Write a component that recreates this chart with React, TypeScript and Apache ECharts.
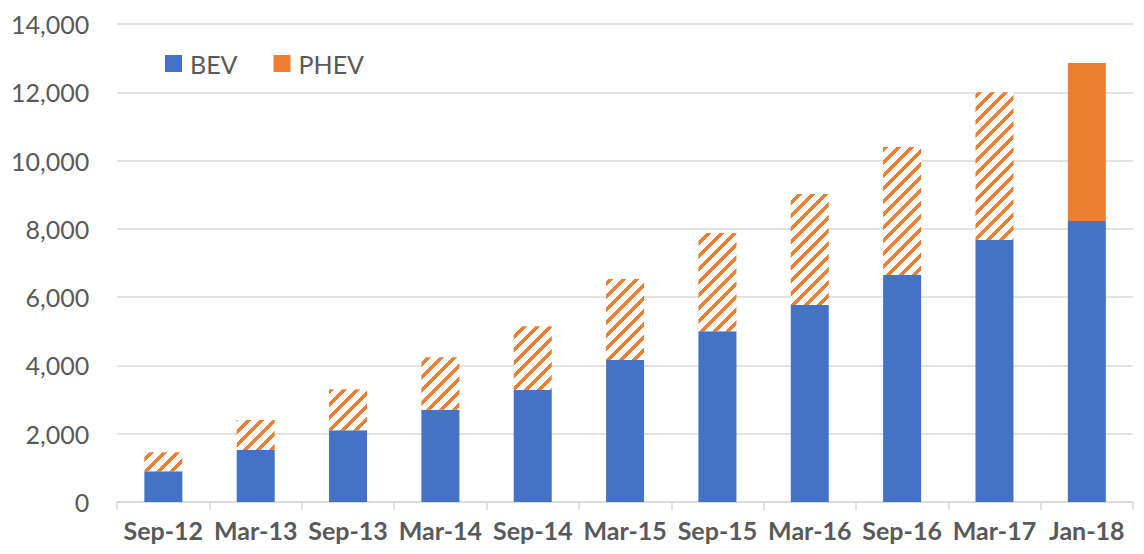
import React, { useEffect, useRef } from "react";
import * as echarts from "echarts";

const categories = ["Sep-12", "Mar-13", "Sep-13", "Mar-14", "Sep-14", "Mar-15", "Sep-15", "Mar-16", "Sep-16", "Mar-17", "Jan-18"];
const bevValues = [900, 1520, 2100, 2700, 3280, 4160, 5000, 5770, 6650, 7670, 8230];
const phevValues = [560, 880, 1200, 1540, 1870, 2370, 2880, 3250, 3750, 4330, 4630];
const hatchedCount = 10; // first ten PHEV bars are hatched (estimates), last one solid

const BLUE = "#4472C4";
const ORANGE = "#ED7D31";
const TEXT = "#595959";
const GRID = "#D9D9D9";
const FONT = "Lato, 'Open Sans', sans-serif";

function makeHatch(): HTMLCanvasElement {
  const n = 13;
  const c = document.createElement("canvas");
  c.width = n;
  c.height = n;
  const ctx = c.getContext("2d")!;
  ctx.fillStyle = "#ffffff";
  ctx.fillRect(0, 0, n, n);
  ctx.fillStyle = ORANGE;
  for (let y = 0; y < n; y++) {
    for (let x = 0; x < n; x++) {
      if ((x + y) % n < 5) ctx.fillRect(x, y, 1, 1);
    }
  }
  return c;
}

export default function App() {
  const ref = useRef<HTMLDivElement>(null);
  useEffect(() => {
    if (!ref.current) return;
    const chart = echarts.init(ref.current, undefined, { renderer: "svg" });
    const hatch = makeHatch();
    const phevData = phevValues.map((v, i) =>
      i < hatchedCount
        ? { value: v, itemStyle: { color: { image: hatch, repeat: "repeat" } as any } }
        : { value: v }
    );
    chart.setOption({
      animation: false,
      grid: { left: 108, right: 3, top: 16, bottom: 44, containLabel: false },
      legend: {
        left: 152,
        top: 38,
        icon: "rect",
        itemWidth: 17,
        itemHeight: 17,
        itemGap: 36,
        textStyle: { color: TEXT, fontSize: 25, fontFamily: FONT, padding: [0, 0, 0, 3] },
        data: ["BEV", "PHEV"],
      },
      xAxis: {
        type: "category",
        data: categories,
        axisLine: { show: true, lineStyle: { color: GRID, width: 1.5 } },
        axisTick: { show: true, length: 8, lineStyle: { color: GRID, width: 1.5 } },
        axisLabel: {
          color: TEXT,
          fontSize: 25,
          fontWeight: "bold",
          fontFamily: FONT,
          margin: 15,
          interval: 0,
        },
      },
      yAxis: {
        type: "value",
        min: 0,
        max: 14000,
        interval: 2000,
        axisLine: { show: false },
        axisTick: { show: false },
        splitLine: { lineStyle: { color: GRID, width: 1.5 } },
        axisLabel: {
          color: TEXT,
          fontSize: 25,
          fontFamily: FONT,
          margin: 28,
          formatter: (v: number) => v.toLocaleString("en-US"),
        },
      },
      series: [
        {
          name: "BEV",
          type: "bar",
          stack: "total",
          barWidth: 38,
          itemStyle: { color: BLUE },
          data: bevValues,
        },
        {
          name: "PHEV",
          type: "bar",
          stack: "total",
          barWidth: 38,
          itemStyle: { color: ORANGE },
          data: phevData,
        },
      ],
    });
    return () => chart.dispose();
  }, []);
  return <div ref={ref} style={{ width: 1128, height: 538 }} />;
}
